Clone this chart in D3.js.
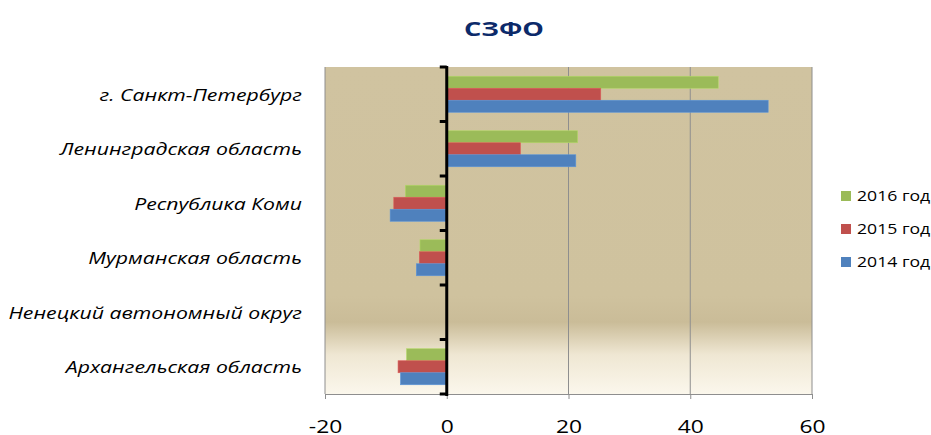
<!DOCTYPE html>
<html>
<head>
<meta charset="utf-8">
<script src="https://cdn.jsdelivr.net/npm/d3@7"></script>
<style>
  body { margin: 0; background: #fff; }
  svg { display: block; }
</style>
</head>
<body>
<svg id="chart" width="931" height="435"></svg>
<script>
// data
var categories = [
  "г. Санкт-Петербург",
  "Ленинградская область",
  "Республика Коми",
  "Мурманская область",
  "Ненецкий автономный округ",
  "Архангельская область"
];
var seriesNames = ["2016 год", "2015 год", "2014 год"];
var values2016 = [44.6, 21.5, -6.8, -4.4, 0, -6.6];
var values2015 = [25.3, 12.1, -8.7, -4.5, 0, -8.0];
var values2014 = [52.8, 21.2, -9.3, -5.0, 0, -7.6];
var xTicks = [-20, 0, 20, 40, 60];
var colors = ["#9BBB59", "#C0504D", "#4F81BD"];

var seriesValues = [values2016, values2015, values2014];

var svg = d3.select("#chart");
var margin = { top: 67, left: 325, right: 119, bottom: 41 };
var width = +svg.attr("width") - margin.left - margin.right;
var height = +svg.attr("height") - margin.top - margin.bottom;
var font = "'Open Sans', sans-serif";

// the original picture is stretched sideways, so texts get a horizontal scale
function place(sel, px, py, sx) {
  return sel.attr("transform", "translate(" + px + "," + py + ") scale(" + sx + ",1)");
}

// plot background gradient
var defs = svg.append("defs");
var grad = defs.append("linearGradient")
    .attr("id", "bg")
    .attr("x1", 0).attr("y1", 0).attr("x2", 0).attr("y2", 1);
grad.append("stop").attr("offset", "0%").attr("stop-color", "#D0C3A0");
grad.append("stop").attr("offset", "70%").attr("stop-color", "#CFC29E");
grad.append("stop").attr("offset", "78%").attr("stop-color", "#CABC98");
grad.append("stop").attr("offset", "88%").attr("stop-color", "#EFE7D3");
grad.append("stop").attr("offset", "100%").attr("stop-color", "#FBF7EC");

var x = d3.scaleLinear().domain([-20, 60]).range([0, width]);
var y0 = d3.scaleBand().domain(categories).range([0, height]).padding(0);
var y1 = d3.scaleBand().domain(seriesNames).range([0, y0.bandwidth()])
    .paddingInner(0).paddingOuter(0.77);

var g = svg.append("g")
    .attr("transform", "translate(" + margin.left + "," + margin.top + ")");

g.append("rect")
    .attr("width", width)
    .attr("height", height)
    .attr("fill", "url(#bg)");

// vertical grid lines (including plot edges)
g.selectAll(".grid")
    .data(xTicks.filter(function (d) { return d !== 0; }))
    .enter().append("line")
    .attr("class", "grid")
    .attr("x1", function (d) { return x(d); })
    .attr("x2", function (d) { return x(d); })
    .attr("y1", 0)
    .attr("y2", height)
    .attr("stroke", "#8E8E8E")
    .attr("stroke-width", 1);

// bottom axis
var xAxis = g.append("g")
    .attr("transform", "translate(0," + height + ")")
    .call(d3.axisBottom(x).tickValues(xTicks).tickSize(5).tickSizeOuter(0)
      .tickFormat(function (d) { return String(d); }));
xAxis.select(".domain").attr("stroke", "#8E8E8E");
xAxis.selectAll(".tick line").attr("stroke", "#8E8E8E");
xAxis.selectAll("text")
    .attr("fill", "#000")
    .attr("y", null)
    .attr("dy", null)
    .attr("transform", "translate(0,39) scale(1.2,1)")
    .style("font-family", font)
    .style("font-size", "19px");

// bars
var groups = g.selectAll(".cat")
    .data(categories)
    .enter().append("g")
    .attr("class", "cat")
    .attr("transform", function (d) { return "translate(0," + y0(d) + ")"; });

groups.selectAll("rect")
    .data(function (d, i) {
      return seriesNames.map(function (s, j) {
        return { series: s, value: seriesValues[j][i], color: colors[j] };
      });
    })
    .enter().append("rect")
    .attr("x", function (d) { return x(Math.min(0, d.value)); })
    .attr("y", function (d) { return y1(d.series); })
    .attr("width", function (d) { return Math.abs(x(d.value) - x(0)); })
    .attr("height", y1.bandwidth())
    .attr("fill", function (d) { return d.color; })
    .attr("stroke", function (d) { return d3.color(d.color).brighter(0.4); })
    .attr("stroke-width", 0.6);

// category axis at zero
var yAxis = g.append("g")
    .attr("transform", "translate(" + x(0) + ",0)");
yAxis.append("line")
    .attr("y1", -1)
    .attr("y2", height + 2)
    .attr("stroke", "#000")
    .attr("stroke-width", 3);
var bounds = categories.map(function (c) { return y0(c); }).concat([height]);
yAxis.selectAll(".tk")
    .data(bounds)
    .enter().append("line")
    .attr("class", "tk")
    .attr("x1", -7)
    .attr("x2", 0)
    .attr("y1", function (d) { return d; })
    .attr("y2", function (d) { return d; })
    .attr("stroke", "#000")
    .attr("stroke-width", 3);

// category labels
svg.append("g").selectAll("text")
    .data(categories)
    .enter().append("text")
    .each(function (d) {
      place(d3.select(this), 302, margin.top + y0(d) + y0.bandwidth() / 2 + 1, 1.37);
    })
    .attr("dy", "0.35em")
    .attr("text-anchor", "end")
    .style("font-family", font)
    .style("font-style", "italic")
    .style("font-size", "15.5px")
    .attr("fill", "#000")
    .text(function (d) { return d; });

// title
place(svg.append("text"), 504, 36, 1.36)
    .attr("text-anchor", "middle")
    .style("font-family", font)
    .style("font-weight", "bold")
    .style("font-size", "20px")
    .attr("fill", "#0C2A6A")
    .text("СЗФО");

// legend
var legend = svg.append("g").selectAll("g")
    .data(seriesNames)
    .enter().append("g")
    .attr("transform", function (d, i) { return "translate(841," + (196 + i * 33) + ")"; });
legend.append("rect")
    .attr("x", 0)
    .attr("y", -5)
    .attr("width", 10)
    .attr("height", 10)
    .attr("fill", function (d, i) { return colors[i]; });
legend.append("text")
    .each(function () { place(d3.select(this), 16, 0, 1.26); })
    .attr("dy", "0.35em")
    .style("font-family", font)
    .style("font-size", "14px")
    .attr("fill", "#000")
    .text(function (d) { return d; });
</script>
</body>
</html>
